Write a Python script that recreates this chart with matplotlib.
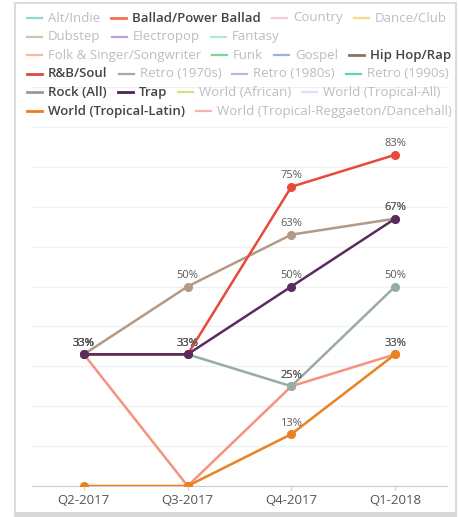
import matplotlib
matplotlib.use("Agg")
import matplotlib.pyplot as plt
from matplotlib.lines import Line2D
from matplotlib.patches import Rectangle

plt.rcParams['font.family'] = ['Open Sans', 'DejaVu Sans']

quarters = ["Q2-2017", "Q3-2017", "Q4-2017", "Q1-2018"]

# legend entries: (name, colour, active)
genres = ["Alt/Indie", "Ballad/Power Ballad", "Country", "Dance/Club",
          "Dubstep", "Electropop", "Fantasy",
          "Folk & Singer/Songwriter", "Funk", "Gospel", "Hip Hop/Rap",
          "R&B/Soul", "Retro (1970s)", "Retro (1980s)", "Retro (1990s)",
          "Rock (All)", "Trap", "World (African)", "World (Tropical-All)",
          "World (Tropical-Latin)", "World (Tropical-Reggaeton/Dancehall)"]
genre_colors = ["#8fd9d4", "#f0704f", "#f6c9e2", "#f7d98a",
                "#cdc8a8", "#b9a2db", "#aee8e0",
                "#f8b8a4", "#78d6a0", "#93b7e0", "#8e715e",
                "#e0473a", "#a0a8b0", "#cbaee4", "#5fd3b8",
                "#8e9d99", "#4a2450", "#d3df85", "#d8e4f4",
                "#ec7d20", "#f6b3b3"]
active = ["Ballad/Power Ballad", "Hip Hop/Rap", "R&B/Soul", "Rock (All)",
          "Trap", "World (Tropical-Latin)"]

# plotted series (percent)
ballad = [33, 0, 25, 33]
rock = [33, 33, 25, 50]
latin = [0, 0, 13, 33]
hiphop = [33, 50, 63, 67]
rnb = [33, 33, 75, 83]
trap = [33, 33, 50, 67]

series = [
    (ballad, "#f5937c"),
    (rock, "#97aca7"),
    (latin, "#e9821f"),
    (hiphop, "#b39a87"),
    (rnb, "#e8493b"),
    (trap, "#5a2c5d"),
]

W, H = 458, 517
fig = plt.figure(figsize=(W / 100, H / 100), dpi=100)

# outer frame
fig.patches.append(Rectangle((15 / W, 0), 441 / W, 514 / H, transform=fig.transFigure,
                             fill=False, edgecolor="#dcdcdc", linewidth=1.5))
fig.patches.append(Rectangle((15 / W, 0), 441 / W, 5 / H, transform=fig.transFigure,
                             facecolor="#d9d9d9", edgecolor="none"))

ax = fig.add_axes([32 / W, (H - 486) / H, 415 / W, 399 / H])
x = list(range(len(quarters)))
for vals, col in series:
    ax.plot(x, vals, color=col, linewidth=1.8, marker='o', markersize=5.5, zorder=3)
for vals, col in series:
    for xi, v in zip(x, vals):
        if v > 0:
            ax.annotate(f"{v}%", (xi, v), xytext=(0, 4), textcoords='offset points',
                        ha='center', va='bottom', fontsize=8, color="#5a5a5a", zorder=4)

ax.set_xlim(-0.5, 3.5)
ax.set_ylim(0, 100)
ax.set_yticks(range(0, 101, 10))
ax.set_yticklabels([])
ax.tick_params(axis='y', length=0)
ax.set_xticks(x)
ax.set_xticklabels(quarters, fontsize=9.5, color="#555555")
ax.tick_params(axis='x', length=3, color="#cccccc", pad=3)
ax.grid(axis='y', color="#f0f0f0", linewidth=1)
for s in ["top", "right", "left"]:
    ax.spines[s].set_visible(False)
ax.spines["bottom"].set_color("#cccccc")
ax.set_axisbelow(True)

# legend, flowed in rows like the original
fig.canvas.draw()
renderer = fig.canvas.get_renderer()
x0, right = 27, 452
row_y = 18
row_h = 18.6
cx = x0
hl, hgap, igap = 15, 6, 11
for name, col in zip(genres, genre_colors):
    on = name in active
    t = fig.text(0, 0, name, fontsize=9.5, weight='semibold' if on else 'normal',
                 color="#444444" if on else "#bdbdbd", va='center', ha='left')
    w = t.get_window_extent(renderer).width
    if cx + hl + hgap + w > right and cx > x0:
        cx = x0
        row_y += row_h
    yf = (H - row_y) / H
    fig.lines.append(Line2D([cx / W, (cx + hl) / W], [yf, yf], transform=fig.transFigure,
                            color=col, linewidth=2 if on else 1.6))
    t.set_position(((cx + hl + hgap) / W, yf))
    cx += hl + hgap + w + igap

fig.savefig("out.png", dpi=100)
